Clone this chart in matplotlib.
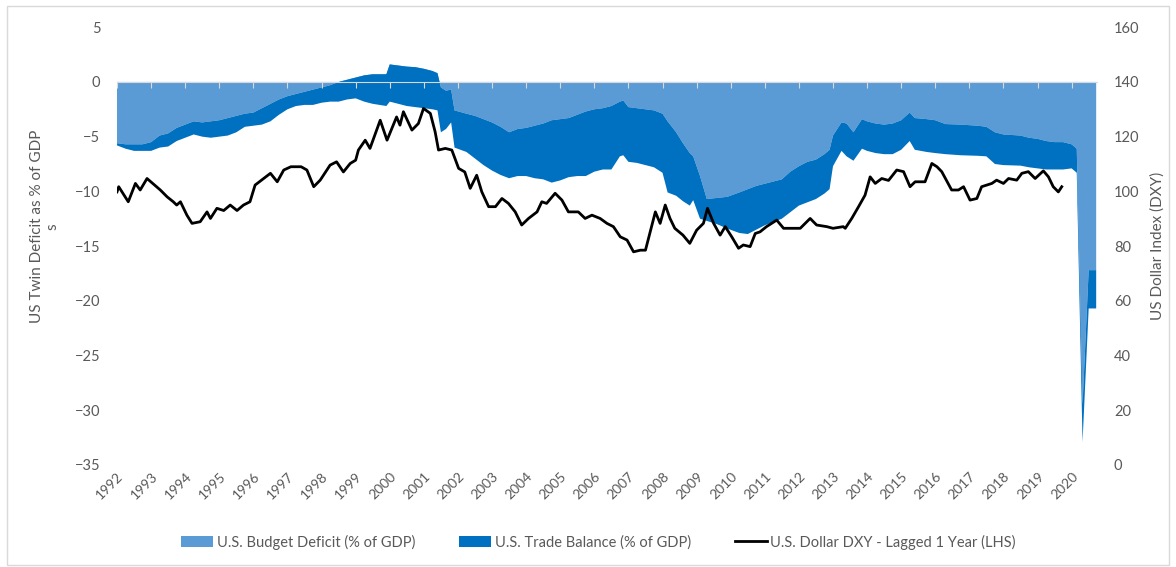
import numpy as np
import matplotlib
matplotlib.use('Agg')
import matplotlib.pyplot as plt
from matplotlib.patches import Rectangle

plt.rcParams['font.family'] = ['Lato', 'DejaVu Sans']

# Daten
t_area = [1992.0, 1992.25, 1992.5, 1992.75, 1993.0, 1993.25, 1993.5, 1993.75,
          1994.0, 1994.25, 1994.5, 1994.75, 1995.0, 1995.25, 1995.5, 1995.75,
          1996.0, 1996.25, 1996.5, 1996.75, 1997.0, 1997.25, 1997.5, 1997.75,
          1998.0, 1998.25, 1998.5, 1998.75, 1999.0, 1999.25, 1999.5, 1999.9,
          2000.0, 2000.25, 2000.5, 2000.75, 2001.0, 2001.25, 2001.4, 2001.5,
          2001.65, 2001.8, 2001.9, 2002.25, 2002.5, 2002.75, 2003.0, 2003.25,
          2003.5, 2003.75, 2004.0, 2004.25, 2004.5, 2004.75, 2005.0, 2005.25,
          2005.5, 2005.75, 2006.0, 2006.25, 2006.5, 2006.75, 2006.85, 2007.0,
          2007.25, 2007.5, 2007.75, 2008.0, 2008.15, 2008.4, 2008.6, 2008.8,
          2008.9, 2009.1, 2009.3, 2009.6, 2009.9, 2010.25, 2010.5, 2010.75,
          2011.0, 2011.25, 2011.5, 2011.75, 2012.0, 2012.25, 2012.5, 2012.75,
          2012.9, 2013.0, 2013.25, 2013.4, 2013.6, 2013.85, 2014.0, 2014.25,
          2014.5, 2014.75, 2015.0, 2015.25, 2015.4, 2015.75, 2016.0, 2016.3,
          2016.75, 2017.25, 2017.5, 2017.75, 2018.0, 2018.5, 2018.75, 2019.0,
          2019.25, 2019.5, 2019.75, 2020.0, 2020.15, 2020.32, 2020.5, 2020.72]

budget = [-5.6, -5.7, -5.7, -5.7, -5.5, -4.9, -4.7, -4.2,
          -3.9, -3.6, -3.7, -3.6, -3.5, -3.3, -3.1, -2.9,
          -2.8, -2.4, -2.0, -1.6, -1.3, -1.1, -0.9, -0.7,
          -0.5, -0.3, 0.0, 0.2, 0.4, 0.6, 0.7, 0.7,
          1.6, 1.5, 1.4, 1.35, 1.2, 1.0, 0.8, -0.5,
          -0.8, -0.7, -2.6, -2.9, -3.1, -3.4, -3.7, -4.1,
          -4.6, -4.3, -4.2, -4.0, -3.8, -3.5, -3.4, -3.3,
          -3.0, -2.7, -2.5, -2.4, -2.2, -1.8, -1.7, -2.3,
          -2.4, -2.5, -2.6, -2.9, -3.6, -4.6, -5.6, -6.5,
          -6.8, -8.6, -10.7, -10.6, -10.5, -10.1, -9.8, -9.5,
          -9.3, -9.1, -8.9, -8.2, -7.7, -7.3, -7.1, -6.6,
          -6.2, -4.9, -3.7, -3.8, -4.6, -3.4, -3.6, -3.8,
          -3.9, -3.8, -3.5, -2.8, -3.3, -3.4, -3.5, -3.85,
          -3.9, -4.0, -4.1, -4.6, -4.8, -4.9, -5.1, -5.2,
          -5.4, -5.5, -5.5, -5.7, -6.1, -29.5, -17.2, -17.2]

trade = [-0.2, -0.4, -0.6, -0.6, -0.8, -1.1, -1.2, -1.2,
         -1.2, -1.2, -1.3, -1.5, -1.5, -1.6, -1.5, -1.2,
         -1.2, -1.5, -1.6, -1.4, -1.2, -1.1, -1.2, -1.4,
         -1.4, -1.5, -1.8, -1.8, -1.9, -2.4, -2.7, -2.9,
         -3.4, -3.5, -3.6, -3.65, -3.6, -3.5, -3.4, -4.1,
         -3.5, -3.0, -3.4, -3.5, -3.9, -4.2, -4.4, -4.4,
         -4.2, -4.3, -4.4, -4.8, -5.1, -5.7, -5.6, -5.4,
         -5.6, -5.9, -5.7, -5.6, -5.8, -5.0, -5.0, -5.0,
         -5.0, -5.1, -5.2, -5.4, -6.5, -5.8, -5.3, -4.8,
         -4.0, -3.9, -2.0, -2.4, -2.9, -3.7, -4.1, -4.0,
         -3.8, -3.7, -3.6, -3.7, -3.6, -3.7, -3.6, -3.6,
         -3.6, -2.8, -2.6, -3.0, -2.6, -2.7, -2.7, -2.7,
         -2.7, -2.8, -2.7, -2.6, -2.9, -3.0, -3.0, -2.75,
         -2.8, -2.75, -2.7, -2.9, -2.8, -2.75, -2.7, -2.7,
         -2.6, -2.5, -2.5, -2.2, -2.2, -3.4, -3.5, -3.5]

t_dxy = [1992.0, 1992.05, 1992.33, 1992.54, 1992.68, 1992.88, 1993.27, 1993.47,
         1993.65, 1993.75, 1993.86, 1994.05, 1994.2, 1994.44, 1994.64, 1994.74,
         1994.93, 1995.13, 1995.32, 1995.52, 1995.71, 1995.9, 1996.05, 1996.3,
         1996.5, 1996.7, 1996.89, 1997.1, 1997.4, 1997.57, 1997.77, 1997.96,
         1998.25, 1998.44, 1998.64, 1998.84, 1999.0, 1999.08, 1999.28, 1999.42,
         1999.72, 1999.92, 2000.2, 2000.3, 2000.4, 2000.65, 2000.84, 2000.99,
         2001.19, 2001.33, 2001.43, 2001.63, 2001.82, 2002.02, 2002.2, 2002.36,
         2002.55, 2002.7, 2002.9, 2003.1, 2003.29, 2003.48, 2003.68, 2003.87,
         2004.07, 2004.32, 2004.46, 2004.6, 2004.85, 2005.05, 2005.24, 2005.53,
         2005.73, 2005.93, 2006.17, 2006.37, 2006.56, 2006.76, 2006.96, 2007.15,
         2007.35, 2007.5, 2007.64, 2007.79, 2007.93, 2008.08, 2008.22, 2008.36,
         2008.6, 2008.8, 2009.0, 2009.2, 2009.32, 2009.5, 2009.69, 2009.84,
         2010.03, 2010.23, 2010.37, 2010.57, 2010.72, 2010.86, 2011.05, 2011.35,
         2011.55, 2011.84, 2012.04, 2012.33, 2012.52, 2012.82, 2013.0, 2013.3,
         2013.36, 2013.55, 2013.75, 2013.94, 2014.09, 2014.24, 2014.43, 2014.63,
         2014.87, 2015.07, 2015.26, 2015.41, 2015.7, 2015.9, 2016.05, 2016.19,
         2016.48, 2016.68, 2016.83, 2017.02, 2017.22, 2017.36, 2017.66, 2017.8,
         2018.0, 2018.15, 2018.39, 2018.54, 2018.73, 2018.93, 2019.17, 2019.32,
         2019.46, 2019.61, 2019.71]

dxy = [99.8, 101.7, 96.2, 102.9, 100.5, 104.7, 100.5, 98.0,
       96.2, 95.0, 96.2, 91.3, 88.3, 88.9, 92.5, 90.1,
       93.8, 93.0, 95.0, 93.0, 95.0, 96.2, 102.3, 104.7,
       106.6, 103.5, 107.8, 109.0, 109.0, 107.8, 101.7, 104.1,
       109.6, 110.8, 107.1, 110.2, 111.4, 115.1, 118.7, 115.7,
       126.0, 118.7, 127.2, 124.2, 129.1, 122.4, 124.8, 130.3,
       128.5, 121.8, 115.1, 115.7, 115.1, 108.4, 107.1, 101.1,
       105.9, 99.8, 94.4, 94.4, 97.4, 95.6, 92.5, 87.7,
       90.1, 92.5, 96.2, 95.6, 99.3, 96.8, 92.5, 92.5,
       90.1, 91.3, 90.1, 88.3, 87.1, 83.4, 82.2, 77.9,
       78.5, 78.5, 85.2, 92.5, 88.3, 95.0, 90.1, 86.5,
       84.0, 81.0, 85.8, 88.3, 93.8, 88.3, 84.0, 87.1,
       83.4, 79.2, 80.4, 79.8, 84.6, 85.2, 87.1, 89.5,
       86.5, 86.5, 86.5, 90.1, 87.7, 87.1, 86.5, 87.1,
       86.5, 90.1, 94.4, 98.6, 105.3, 102.9, 104.7, 104.0,
       107.8, 107.2, 101.7, 103.5, 103.5, 110.2, 109.0, 107.2,
       100.5, 100.5, 101.7, 96.8, 97.4, 101.7, 102.9, 104.1,
       102.9, 104.7, 104.1, 106.6, 107.2, 104.7, 107.5, 105.3,
       101.7, 99.8, 101.7]

years = list(range(1992, 2021))

light = '#5B9BD5'
dark = '#0070C0'
grey = '#595959'

fig = plt.figure(figsize=(11.76, 5.67), dpi=100)
ax = fig.add_axes([0.0995, 0.18, 0.8335, 0.772])
ax2 = ax.twinx()

ax.stackplot(t_area, budget, trade, colors=[light, dark],
             labels=['U.S. Budget Deficit (% of GDP)', 'U.S. Trade Balance (% of GDP)'])
ax2.plot(t_dxy, dxy, color='black', lw=2, label='U.S. Dollar DXY - Lagged 1 Year (LHS)')

ax.set_xlim(1992, 2020.75)
ax.set_ylim(-35, 5)
ax.set_yticks(np.arange(-35, 6, 5))
ax2.set_ylim(0, 160)
ax2.set_yticks(np.arange(0, 161, 20))

# Achsen/Spines
for s in ['top', 'left', 'right']:
    ax.spines[s].set_visible(False)
    ax2.spines[s].set_visible(False)
ax2.spines['bottom'].set_visible(False)
ax.spines['bottom'].set_position(('data', 0))
ax.spines['bottom'].set_color('#D9D9D9')
ax.spines['bottom'].set_zorder(5)
ax.set_xticks(years)
ax.tick_params(axis='x', direction='out', length=4, color='#D9D9D9', labelbottom=False)
ax.tick_params(axis='y', length=0, pad=12, labelsize=10.5, labelcolor=grey)
ax2.tick_params(axis='y', length=0, pad=12, labelsize=10.5, labelcolor=grey)

sec = ax.secondary_xaxis('bottom')
sec.set_xticks(years, labels=[str(y) for y in years])
sec.tick_params(length=0, pad=4, labelsize=10, labelcolor=grey)
sec.spines['bottom'].set_visible(False)
for lab in sec.get_xticklabels():
    lab.set_rotation(45)
    lab.set_ha('right')
    lab.set_va('top')
    lab.set_rotation_mode('anchor')

fig.text(0.038, 0.6, 'US Twin Deficit as % of GDP\ns', rotation=90, ha='center', va='center',
         multialignment='center', fontsize=11, color=grey)
ax2.set_ylabel('US Dollar Index (DXY)', fontsize=11, color=grey, labelpad=8)

h1, l1 = ax.get_legend_handles_labels()
h2, l2 = ax2.get_legend_handles_labels()
fig.legend(h1 + h2, l1 + l2, loc='center', bbox_to_anchor=(0.509, 0.044), ncol=3,
           frameon=False, fontsize=10.5, labelcolor=grey, handlelength=2.2,
           handletextpad=0.25, columnspacing=3.0)

fig.patches.append(Rectangle((0.006, 0.004), 0.988, 0.985, transform=fig.transFigure,
                             fill=False, edgecolor='#D9D9D9', lw=1))

plt.savefig('out.png', dpi=100)
